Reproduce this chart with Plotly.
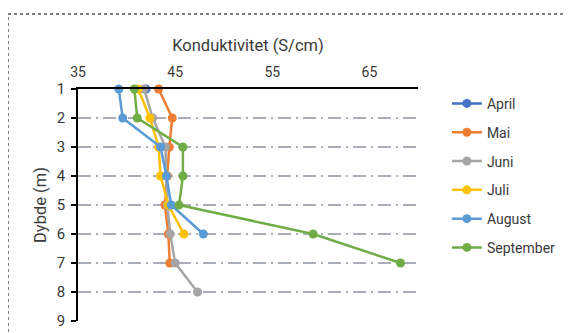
import plotly.graph_objects as go

depths = [1, 2, 3, 4, 5, 6, 7, 8]
series_names = ["April", "Mai", "Juni", "Juli", "August", "September"]
april = [42.0]
mai = [43.3, 44.7, 44.4, 44.2, 43.95, 44.3, 44.45]
juni = [41.8, 42.7, 44.0, 44.1, 44.2, 44.5, 45.0, 47.3]
juli = [41.2, 42.4, 43.3, 43.5, 44.3, 45.9]
august = [39.2, 39.6, 43.5, 44.1, 44.6, 47.9]
september = [40.8, 41.1, 45.8, 45.8, 45.4, 59.2, 68.2]
colors = ["#4472C4", "#ED7D31", "#A5A5A5", "#FFC000", "#5B9BD5", "#70AD47"]
x_ticks = [35, 45, 55, 65]
y_ticks = [1, 2, 3, 4, 5, 6, 7, 8, 9]

FONT = "Roboto"
TXT = "#3a3a3a"
W = 400
fig = go.Figure()
for name, vals, col in zip(series_names, [april, mai, juni, juli, august, september], colors):
    fig.add_trace(go.Scatter(
        x=vals, y=depths[:len(vals)], name=name, mode="lines+markers",
        line=dict(color=col, width=2.5), marker=dict(color=col, size=9),
        legendgroup=name, cliponaxis=False))

fig.update_layout(
    width=573, height=333,
    margin=dict(l=70, r=163, t=81, b=20),
    paper_bgcolor="white", plot_bgcolor="white",
    font=dict(family=FONT, size=14, color=TXT, weight=W),
    showlegend=True,
    legend=dict(x=1.085, y=1.005, xanchor="left", yanchor="top", maxheight=400,
                font=dict(size=14, color=TXT, weight=W), tracegroupgap=7.6,
                itemwidth=30, bgcolor="rgba(0,0,0,0)"),
    xaxis=dict(side="top", range=[35, 70], tickvals=x_ticks, showgrid=False,
               zeroline=False, showline=True, linecolor="black", linewidth=1.5,
               ticks="", ticklabelstandoff=5,
               title=dict(text="Konduktivitet (S/cm)", font=dict(size=16.5, weight=W), standoff=8),
               tickfont=dict(size=14, weight=W)),
    yaxis=dict(range=[9, 1], tickvals=y_ticks, showgrid=True, gridcolor="#A9ADB8",
               gridwidth=1.5, griddash="13px,5px,2px,5px", zeroline=False,
               showline=True, linecolor="black", linewidth=1.5,
               ticks="outside", ticklen=5, tickcolor="black", tickwidth=1.5,
               ticklabelstandoff=3,
               title=dict(text="Dybde (m)", font=dict(size=16.5, weight=W), standoff=6),
               tickfont=dict(size=15, weight=W)),
    shapes=[dict(type="rect", xref="paper", yref="paper",
                 x0=(8 - 78) / 340, x1=(570 - 78) / 340,
                 y0=(321 - 345) / 232, y1=1 + (89 - 14) / 232,
                 line=dict(color="black", width=1, dash="dot"), layer="below")],
)
fig.write_html("out.html")
